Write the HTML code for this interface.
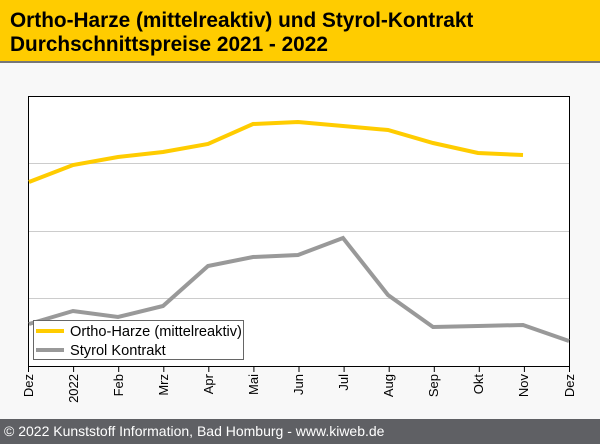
<!DOCTYPE html>
<html><head><meta charset="utf-8"><style>
body{margin:0;width:600px;height:444px;background:#f8f8f8;font-family:"Liberation Sans",sans-serif;overflow:hidden;position:relative}
.h{position:absolute;left:0;top:0;width:600px;height:61px;background:#ffcc00;border-bottom:2px solid #777}
.h div{position:absolute;left:10px;font-weight:bold;font-size:20.8px;color:#000}
.f{position:absolute;left:0;top:419px;width:600px;height:25px;background:#5f6064;color:#fff;font-size:14px;line-height:25px;padding-left:4px;box-sizing:border-box}
</style></head><body>
<div class="h"><div style="top:9px">Ortho-Harze (mittelreaktiv) und Styrol-Kontrakt</div><div style="top:33px">Durchschnittspreise 2021 - 2022</div></div>
<svg style="position:absolute;left:0;top:0" width="600" height="444">
<rect x="28.5" y="96.5" width="541" height="270" fill="#fff" stroke="#000"/>
<g stroke="#ccc"><line x1="29" x2="569" y1="163.5" y2="163.5"/><line x1="29" x2="569" y1="231.5" y2="231.5"/><line x1="29" x2="569" y1="298.5" y2="298.5"/></g>
<polyline fill="none" stroke="#ffcc00" stroke-width="4" points="29,182 73,165 118,157 163,152 208,144 253,124 298,122 343,126 388,130 433,143 478,153 523,155"/>
<polyline fill="none" stroke="#999" stroke-width="4" points="29,324 73,311 118,317 163,306 208,266 253,257 298,255 343,238 388,295 433,327 478,326 523,325 569,341"/>
<rect x="33.5" y="320.5" width="210" height="39" fill="#fff" stroke="#666"/>
<line x1="36" x2="64" y1="331" y2="331" stroke="#ffcc00" stroke-width="4"/>
<line x1="36" x2="64" y1="350" y2="350" stroke="#999" stroke-width="4"/>
<text x="70" y="336" font-size="14.6" fill="#000">Ortho-Harze (mittelreaktiv)</text>
<text x="70" y="355" font-size="14.6" fill="#000">Styrol Kontrakt</text>
<g stroke="#000">
<line x1="28.5" x2="28.5" y1="366" y2="372"/><line x1="73.6" x2="73.6" y1="366" y2="372"/><line x1="118.7" x2="118.7" y1="366" y2="372"/><line x1="163.8" x2="163.8" y1="366" y2="372"/><line x1="208.8" x2="208.8" y1="366" y2="372"/><line x1="253.9" x2="253.9" y1="366" y2="372"/><line x1="299" x2="299" y1="366" y2="372"/><line x1="344.1" x2="344.1" y1="366" y2="372"/><line x1="389.2" x2="389.2" y1="366" y2="372"/><line x1="434.3" x2="434.3" y1="366" y2="372"/><line x1="479.3" x2="479.3" y1="366" y2="372"/><line x1="524.4" x2="524.4" y1="366" y2="372"/><line x1="569.5" x2="569.5" y1="366" y2="372"/>
</g>
<g font-size="13" fill="#000" text-anchor="end">
<text transform="translate(33,374) rotate(-90)">Dez</text>
<text transform="translate(78,374) rotate(-90)">2022</text>
<text transform="translate(123,374) rotate(-90)">Feb</text>
<text transform="translate(168,374) rotate(-90)">Mrz</text>
<text transform="translate(213,374) rotate(-90)">Apr</text>
<text transform="translate(258,374) rotate(-90)">Mai</text>
<text transform="translate(303,374) rotate(-90)">Jun</text>
<text transform="translate(348,374) rotate(-90)">Jul</text>
<text transform="translate(393,374) rotate(-90)">Aug</text>
<text transform="translate(438,374) rotate(-90)">Sep</text>
<text transform="translate(483,374) rotate(-90)">Okt</text>
<text transform="translate(528,374) rotate(-90)">Nov</text>
<text transform="translate(574,374) rotate(-90)">Dez</text>
</g>
</svg>
<div class="f">© 2022 Kunststoff Information, Bad Homburg - www.kiweb.de</div>
</body></html>
